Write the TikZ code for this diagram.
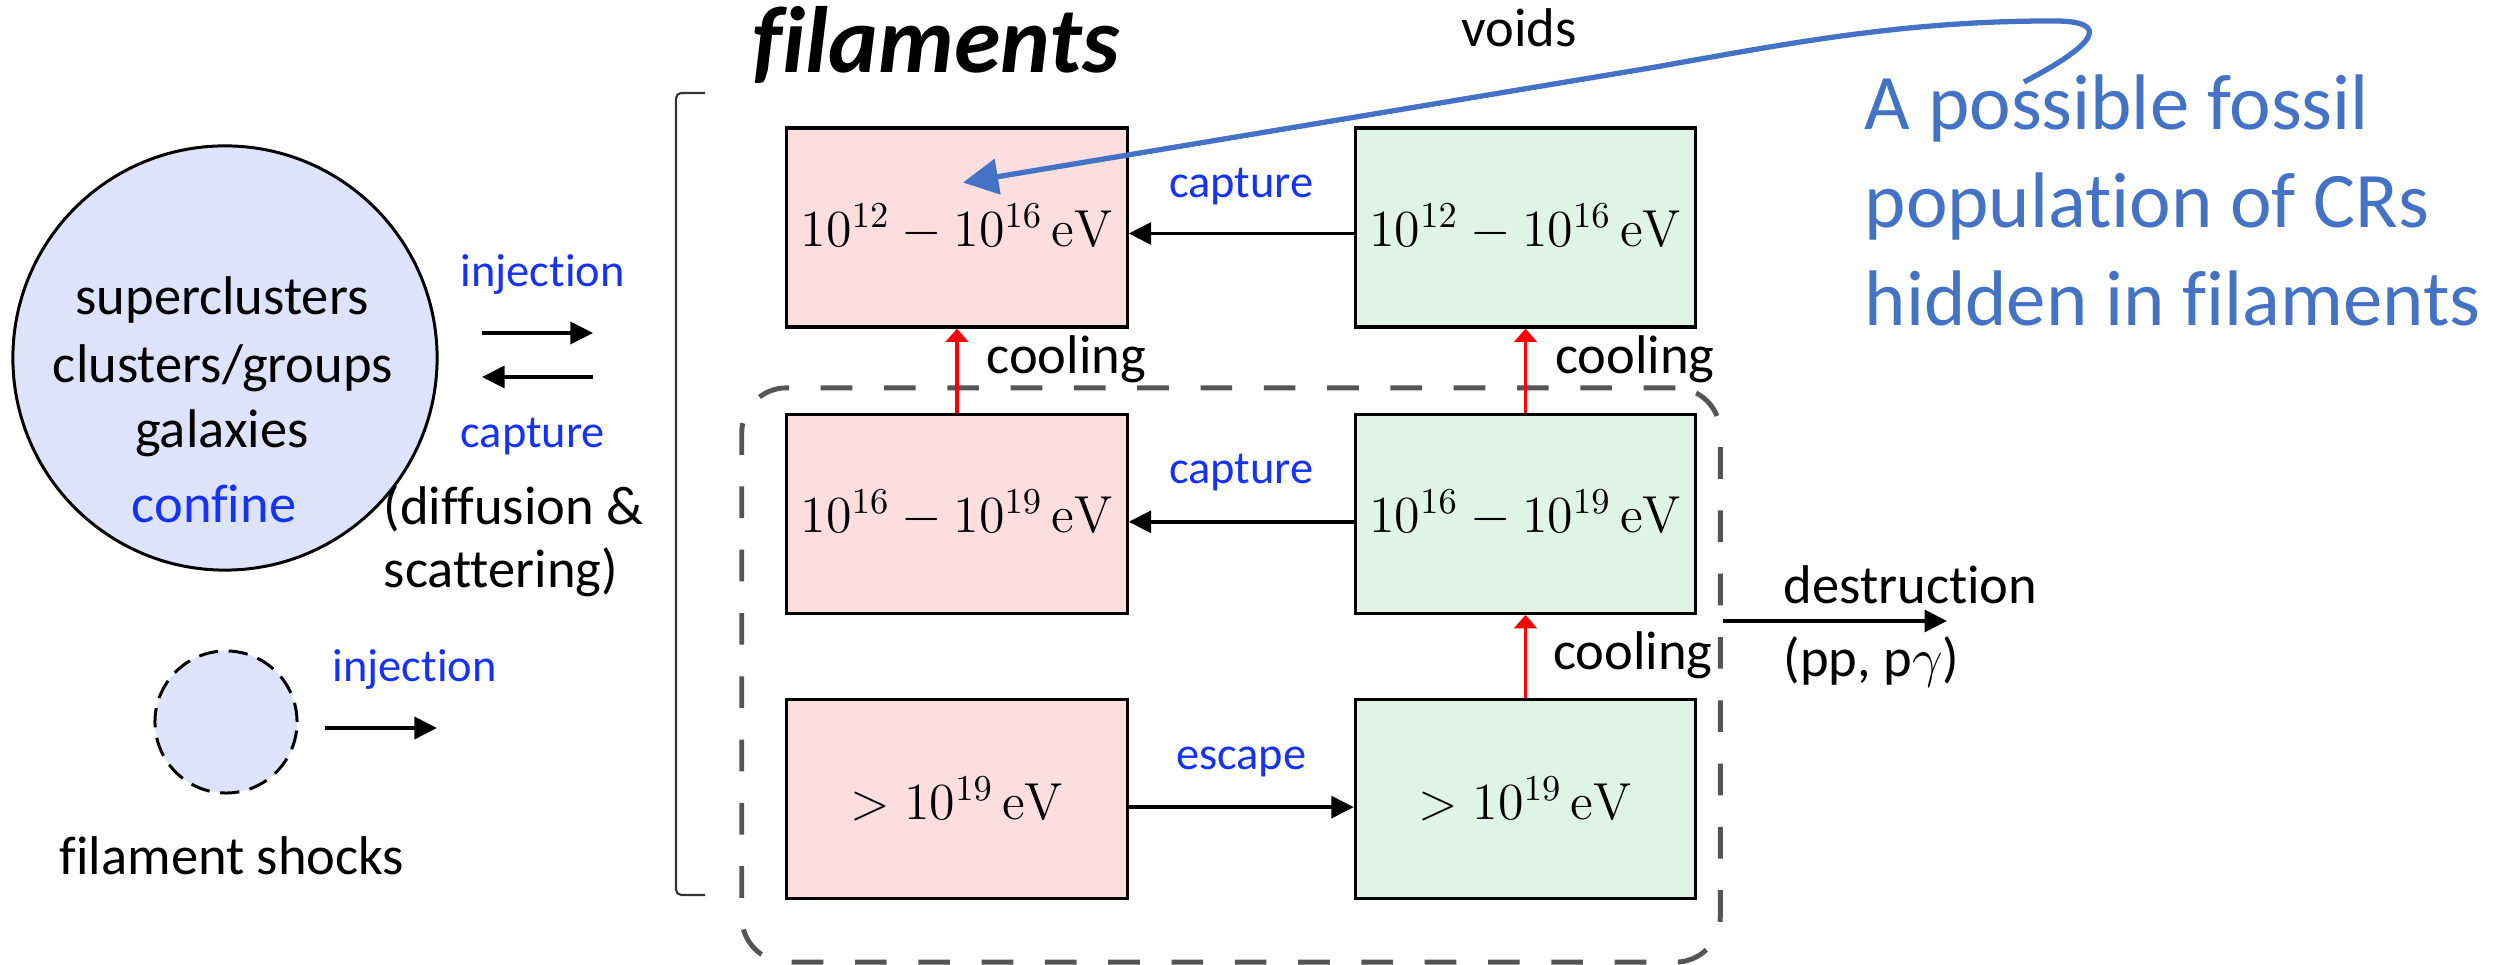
\RequirePackage{fix-cm}
\documentclass[tikz,border=0pt]{standalone}
\usepackage[no-math]{fontspec}
\setmainfont{Carlito}[Ligatures=NoCommon]
\usepackage{tikz}
\usetikzlibrary{arrows.meta,positioning,calc}
\definecolor{filPink}{HTML}{FDDEDE}
\definecolor{filGreen}{HTML}{DFF3E6}
\definecolor{haloLav}{HTML}{DDE3FB}
\definecolor{procBlue}{HTML}{1432FA}
\definecolor{noteBlue}{HTML}{4472C4}
\definecolor{coreGray}{HTML}{555555}

\begin{document}
\begin{tikzpicture}[x=0.01cm,y=-0.01cm,
  txt/.style={font=\fontsize{15.5}{18.8}\selectfont,inner sep=0pt,text=black},
  proc/.style={font=\fontsize{13.2}{16}\selectfont,text=procBlue,inner sep=0pt},
  ebox/.style={draw,line width=0.9pt,minimum width=3.4cm,minimum height=1.99cm,
               inner sep=0pt,font=\fontsize{14.8}{17}\selectfont},
  flow/.style={line width=1.1pt,-{Triangle[length=6.4pt,width=6.2pt]}},
  cool/.style={draw=red,line width=0.9pt,-{Triangle[length=3.8pt,width=6.4pt]}}]
  \useasboundingbox (0,0) rectangle (2499,965);

  \node[circle,draw,line width=0.85pt,fill=haloLav,minimum size=4.24cm] (halo) at (225,358) {};
  \node[txt,anchor=base] (sc) at (222,315) {superclusters};
  \node[txt,anchor=base] (cg) at (223,383) {clusters/groups};
  \node[txt,anchor=base] (gx) at (222,448) {galaxies};
  \node[txt,anchor=base,text=procBlue] (cf) at (214,523) {confine};

  \coordinate (inL) at (482,333);
  \coordinate (inR) at (593,333);
  \coordinate (capR) at (593,377);
  \coordinate (capL) at (482,377);
  \draw[flow] (inL) -- (inR);
  \draw[flow] (capR) -- (capL);
  \node[proc,anchor=base west] (inj) at (460,287) {injection};
  \node[proc,anchor=base west] (cap) at (460,448) {capture};
  \node[txt,anchor=base west] (dif) at (383,525) {(diffusion \&};
  \node[txt,anchor=base west] (sca) at (383,588) {scattering)};

  \node[circle,draw,dashed,dash pattern=on 5.5pt off 3pt,line width=0.85pt,
        fill=haloLav,minimum size=1.42cm] (shock) at (226,722) {};
  \coordinate (shA) at (325,728);
  \coordinate (shB) at (437,728);
  \draw[flow] (shA) -- (shB);
  \node[proc,anchor=base west] (inj2) at (332,682) {injection};
  \node[txt,anchor=base] (fs) at (232,875) {filament shocks};

  \draw[line width=0.6pt,draw=black!80,rounded corners=1.5pt]
    (705,93) -- (676,93) -- (676,895) -- (705,895);
  \node[anchor=base west,inner sep=0pt,font=\fontsize{26.8}{32}\selectfont\bfseries\itshape]
    (title) at (752,73) {filaments};
  \node[txt,anchor=base] (voids) at (1519,47) {voids};

  \node[draw=coreGray,line width=1.4pt,dash pattern=on 9pt off 9pt,rounded corners=0.45cm,
        minimum width=9.78cm,minimum height=5.74cm] (core) at (1231,675) {};

  \node[ebox,fill=filPink] (p1) at (957,227.5) {$10^{12}-10^{16}\,\mathrm{eV}$};
  \node[ebox,fill=filPink,below=0.84cm of p1] (p2) {$10^{16}-10^{19}\,\mathrm{eV}$};
  \node[ebox,fill=filPink,below=0.83cm of p2] (p3) {$>10^{19}\,\mathrm{eV}$};
  \node[ebox,fill=filGreen,right=2.25cm of p1] (g1) {$10^{12}-10^{16}\,\mathrm{eV}$};
  \node[ebox,fill=filGreen,right=2.25cm of p2] (g2) {$10^{16}-10^{19}\,\mathrm{eV}$};
  \node[ebox,fill=filGreen,right=2.25cm of p3] (g3) {$>10^{19}\,\mathrm{eV}$};

  \draw[flow] ([yshift=-0.06cm]g1.west) -- ([yshift=-0.06cm]p1.east)
    node[proc,midway,anchor=base,yshift=0.36cm] (capA) {capture};
  \draw[flow] ([yshift=-0.08cm]g2.west) -- ([yshift=-0.08cm]p2.east)
    node[proc,midway,anchor=base,yshift=0.38cm] (capB) {capture};
  \draw[flow] ([yshift=-0.08cm]p3.east) -- ([yshift=-0.08cm]g3.west)
    node[proc,midway,anchor=base,yshift=0.38cm] (esc) {escape};

  \draw[cool] (p2.north) -- (p1.south)
    node[txt,pos=0.47,anchor=base west,xshift=0.28cm] (coolA) {cooling};
  \draw[cool] (g2.north) -- (g1.south)
    node[txt,pos=0.47,anchor=base west,xshift=0.28cm] (coolB) {cooling};
  \draw[cool] (g3.north) -- (g2.south)
    node[txt,pos=0.34,anchor=base west,xshift=0.26cm] (coolC) {cooling};

  \coordinate (sink) at (1947,621);
  \draw[flow] (core.east |- sink) -- (sink);
  \node[txt,anchor=base west] (dst) at (1783,604) {destruction};
  \node[txt,anchor=base west] (ppg) at (1783,677) {(pp, p$\gamma$)};

  \coordinate (hook) at (2024,82);
  \coordinate (tip) at ($(p1.center)+(6,-45)$);
  \draw[noteBlue,line width=1.5pt,-{Triangle[length=10pt,width=10pt]}]
    (hook) .. controls (2095,45) and (2115,20) .. (2050,21)
    .. controls (1900,21) and (1780,45) .. (1650,68) -- (tip);
  \foreach \ln [count=\i] in {A possible fossil,population of CRs,hidden in filaments}
    \node[anchor=base west,inner sep=0pt,text=noteBlue,font=\fontsize{22.4}{27.9}\selectfont]
      (note\i) at (1864,{130+98*(\i-1)}) {\ln};
\end{tikzpicture}
\end{document}
